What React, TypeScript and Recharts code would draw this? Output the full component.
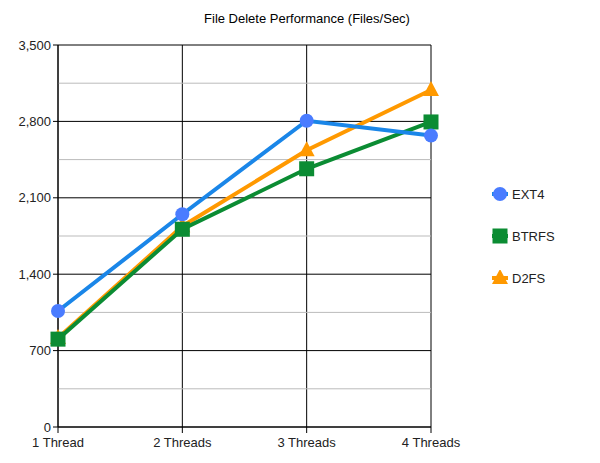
import React from 'react';
import { LineChart, Line, XAxis, YAxis, CartesianGrid, ReferenceLine } from 'recharts';

const threads = ['1 Thread', '2 Threads', '3 Threads', '4 Threads'];
const ext4 = [1063, 1949, 2806, 2670];
const btrfs = [805, 1812, 2366, 2795];
const d2fs = [815, 1840, 2535, 3088];
const yTicks = [0, 700, 1400, 2100, 2800, 3500];
const minorTicks = [350, 1050, 1750, 2450, 3150];

const data = threads.map((name, i) => ({ name, EXT4: ext4[i], BTRFS: btrfs[i], D2FS: d2fs[i] }));

const FONT = '"Liberation Sans", Arial, sans-serif';

const series = [
  { key: 'EXT4', line: '#1a86e8', marker: '#4a7cff', shape: 'circle' },
  { key: 'BTRFS', line: '#0b8c33', marker: '#0b8c33', shape: 'square' },
  { key: 'D2FS', line: '#ff9900', marker: '#ff9900', shape: 'triangle' },
];

const Marker = ({ cx, cy, shape, fill }: any) => {
  if (cx == null || cy == null) return null;
  if (shape === 'circle') return <circle cx={cx} cy={cy} r={7} fill={fill} />;
  if (shape === 'square') return <rect x={cx - 7.5} y={cy - 7.5} width={15} height={15} fill={fill} />;
  return <polygon points={`${cx},${cy - 9} ${cx + 8},${cy + 6} ${cx - 8},${cy + 6}`} fill={fill} />;
};

const LegendBox = () => (
  <div style={{ position: 'absolute', left: 491, top: 173, fontFamily: FONT, fontSize: 13 }}>
    {series.map((s) => (
      <div key={s.key} style={{ display: 'flex', alignItems: 'center', height: 42 }}>
        <svg width={18} height={16} style={{ marginRight: 3 }}>
          <line x1={1} y1={8} x2={17} y2={8} stroke={s.line} strokeWidth={4} />
          <Marker cx={9} cy={8} shape={s.shape} fill={s.marker} />
        </svg>
        <span style={{ color: '#222' }}>{s.key}</span>
      </div>
    ))}
  </div>
);

// draw order: last series at the bottom, first on top
const drawOrder = [...series].reverse();

export default function App() {
  return (
    <div style={{ position: 'absolute', left: 0, top: 0, width: 600, height: 463, background: '#fff' }}>
      <div
        style={{
          position: 'absolute',
          top: 11,
          left: 0,
          width: 614,
          textAlign: 'center',
          fontFamily: FONT,
          fontSize: 13,
          color: '#000',
        }}
      >
        File Delete Performance (Files/Sec)
      </div>
      <LineChart width={600} height={463} data={data} margin={{ top: 45, right: 169, bottom: 6, left: 8 }}>
        <CartesianGrid stroke="#000" strokeWidth={1} horizontalValues={yTicks} />
        {minorTicks.map((v) => (
          <ReferenceLine key={v} y={v} stroke="#bbbbbb" strokeWidth={1} />
        ))}
        <XAxis
          dataKey="name"
          height={30}
          axisLine={{ stroke: '#000' }}
          tickLine={{ stroke: '#000' }}
          tickSize={6}
          tick={{ fontFamily: FONT, fontSize: 13, fill: '#222', dy: 3 }}
          interval={0}
        />
        <YAxis
          domain={[0, 3500]}
          ticks={yTicks}
          width={50}
          axisLine={{ stroke: '#000' }}
          tickLine={{ stroke: '#000' }}
          tickSize={5}
          tickFormatter={(v: number) => v.toLocaleString('en-US')}
          tick={{ fontFamily: FONT, fontSize: 13, fill: '#222' }}
        />
        {drawOrder.map((s) => (
          <Line
            key={s.key}
            dataKey={s.key}
            type="linear"
            stroke={s.line}
            strokeWidth={4}
            dot={(p: any) => <Marker key={`${s.key}-${p.index}`} cx={p.cx} cy={p.cy} shape={s.shape} fill={s.marker} />}
            activeDot={false}
            isAnimationActive={false}
          />
        ))}
      </LineChart>
      <LegendBox />
    </div>
  );
}
